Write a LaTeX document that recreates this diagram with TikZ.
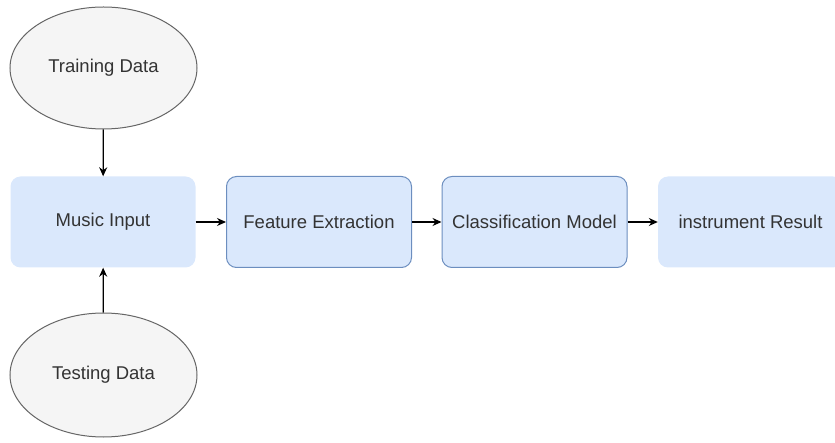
\documentclass[tikz,border=0pt]{standalone}
\usepackage{fontspec}
\setmainfont{Liberation Sans}
\usetikzlibrary{shapes.geometric, arrows.meta}
\definecolor{boxfill}{HTML}{DAE8FC}
\definecolor{boxline}{HTML}{6C8EBF}
\definecolor{ovalfill}{HTML}{F5F5F5}
\definecolor{ovalline}{HTML}{666666}
\definecolor{txt}{HTML}{333333}
\tikzset{
  stage/.style={rectangle, rounded corners=10pt, fill=boxfill, minimum width=185pt, minimum height=91pt, inner sep=0pt, text=txt, font=\fontsize{18.5}{22}\selectfont},
  edged/.style={stage, draw=boxline, line width=1pt},
  source/.style={ellipse, draw=ovalline, fill=ovalfill, line width=1pt, minimum width=187pt, minimum height=122pt, inner sep=0pt, text=txt, font=\fontsize{18.5}{22}\selectfont},
  arr/.style={-{Stealth[length=9pt,width=8pt]}, line width=1.3pt, black}
}

\begin{document}
\begin{tikzpicture}[x=1pt,y=-1pt]
                \useasboundingbox (0,0) rectangle (835,443);
                \node[source] (train) at (103.5,68) {Training Data};
                \node[source, minimum height=124pt] (test) at (103.5,375) {Testing Data};
                \node[stage] (music) at (103,222) {Music Input};
                \node[edged] (feat) at (319,222) {Feature Extraction};
                \node[edged] (clf) at (534.5,222) {Classification Model};
                \node[stage] (res) at (750.5,222) {instrument Result};
                \draw[arr] (train) -- (music);
                \draw[arr] (test) -- (music);
                \foreach \a/\b in {music/feat, feat/clf, clf/res}{
                    \draw[arr] (\a) -- (\b);
                }
            \end{tikzpicture}
\end{document}
